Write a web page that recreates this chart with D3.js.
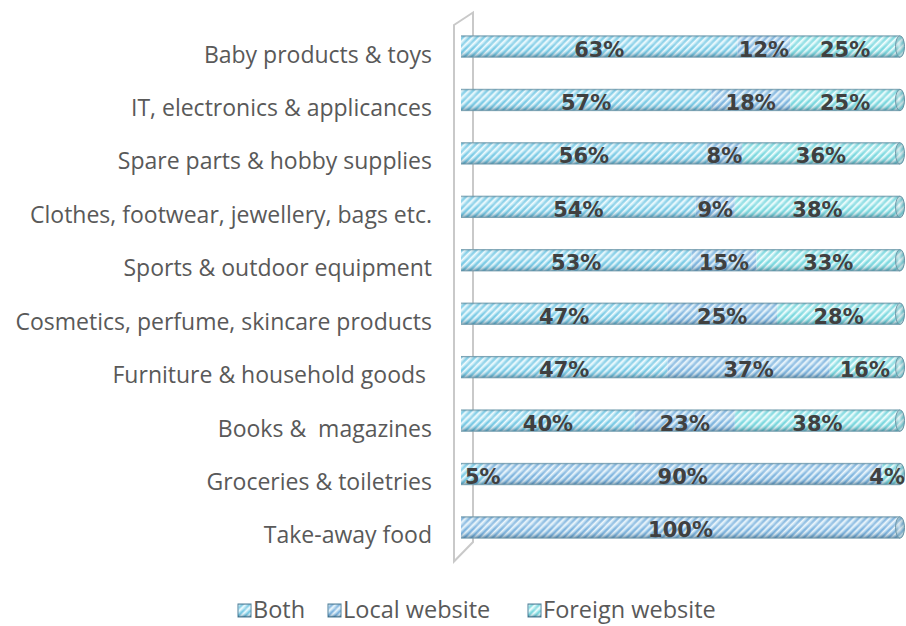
<!DOCTYPE html>
<html>
<head>
<meta charset="utf-8">
<script src="https://cdn.jsdelivr.net/npm/d3@7"></script>
<style>
  html, body { margin: 0; padding: 0; background: #ffffff; }
  svg { display: block; }
  text { white-space: pre; }
</style>
</head>
<body>
<svg id="chart" width="906" height="626"></svg>
<script>
// Where shoppers buy each product category: share by website origin
const categories = [
  "Baby products & toys",
  "IT, electronics & applicances",
  "Spare parts & hobby supplies",
  "Clothes, footwear, jewellery, bags etc.",
  "Sports & outdoor equipment",
  "Cosmetics, perfume, skincare products",
  "Furniture & household goods ",
  "Books &  magazines",
  "Groceries & toiletries",
  "Take-away food"
];
const seriesNames = ["Both", "Local website", "Foreign website"];
const both    = [63, 57, 56, 54, 53, 47, 47, 40, 5, 0];
const local   = [12, 18, 8, 9, 15, 25, 37, 23, 90, 100];
const foreign = [25, 25, 36, 38, 33, 28, 16, 38, 4, 0];

const W = 906, H = 626;
const svg = d3.select("#chart");
const defs = svg.append("defs");

// striped fills, one per series
const fills = [
  { base: "#9ad9ee", stripe: "#eefafe", line: "#68c2e0" },
  { base: "#9cc9e8", stripe: "#eaf4fb", line: "#6ea6d8" },
  { base: "#97e3e8", stripe: "#effdfd", line: "#6dd2da" }
];
fills.forEach((f, i) => {
  const p = defs.append("pattern")
    .attr("id", "stripe" + i)
    .attr("patternUnits", "userSpaceOnUse")
    .attr("width", 5).attr("height", 5)
    .attr("patternTransform", "rotate(45)");
  p.append("rect").attr("width", 5).attr("height", 5).attr("fill", f.base);
  p.append("rect").attr("x", 0).attr("width", 1.6).attr("height", 5).attr("fill", f.stripe);
  p.append("rect").attr("x", 3.2).attr("width", 0.9).attr("height", 5).attr("fill", f.line);
});

// cylinder shading across the bar height
const shade = defs.append("linearGradient")
  .attr("id", "cyl").attr("x1", 0).attr("y1", 0).attr("x2", 0).attr("y2", 1);
[
  [0, "#1d4a63", 0.35],
  [0.12, "#ffffff", 0.10],
  [0.35, "#ffffff", 0.25],
  [0.6, "#ffffff", 0.0],
  [0.85, "#16405a", 0.15],
  [1, "#16405a", 0.45]
].forEach(([o, c, a]) => shade.append("stop")
  .attr("offset", o).attr("stop-color", c).attr("stop-opacity", a));

const capShade = defs.append("radialGradient")
  .attr("id", "cap").attr("cx", 0.4).attr("cy", 0.45).attr("r", 0.7);
capShade.append("stop").attr("offset", 0).attr("stop-color", "#ffffff").attr("stop-opacity", 0.55);
capShade.append("stop").attr("offset", 1).attr("stop-color", "#1d5a6a").attr("stop-opacity", 0.25);

// scales
const x = d3.scaleLinear().domain([0, 1]).range([461, 900]);
const y = d3.scaleBand().domain(categories)
  .range([19.8, 554.2]).paddingInner(0.6).paddingOuter(0.3);
const bh = y.bandwidth();

// 100% stacked layout
const rows = categories.map((c, i) => ({ cat: c, Both: both[i], "Local website": local[i], "Foreign website": foreign[i] }));
rows.forEach(r => { r.total = r.Both + r["Local website"] + r["Foreign website"]; });
const stack = d3.stack().keys(seriesNames).value((d, k) => d[k] / d.total);
const layers = stack(rows);

// back wall
svg.append("path")
  .attr("d", "M454,25 L473,12.5 L473,542 L454,561.5 Z")
  .attr("fill", "none").attr("stroke", "#c9c9c9").attr("stroke-width", 2);

// category labels
svg.append("g").selectAll("text").data(categories).join("text")
  .attr("x", 432)
  .attr("y", d => y(d) + bh / 2 + 16)
  .attr("text-anchor", "end")
  .attr("font-family", "'Open Sans', 'Noto Sans', sans-serif")
  .attr("font-size", 23)
  .attr("fill", "#595959")
  .text(d => d);

// bars
const barG = svg.append("g");
layers.forEach((layer, si) => {
  barG.append("g").selectAll("rect").data(layer).join("rect")
    .attr("x", d => x(d[0]))
    .attr("y", d => y(d.data.cat))
    .attr("width", d => Math.max(0, x(d[1]) - x(d[0])))
    .attr("height", bh)
    .attr("fill", `url(#stripe${si})`);
});

// shading and outline over the full cylinder, with the rounded end cap
const rx = 4.5;
const cyl = svg.append("g").selectAll("g").data(rows).join("g");
cyl.append("rect")
  .attr("x", x(0)).attr("y", d => y(d.cat))
  .attr("width", x(1) - x(0)).attr("height", bh)
  .attr("fill", "url(#cyl)");
cyl.append("path")
  .attr("d", d => {
    const t = y(d.cat), b = t + bh;
    return `M${x(0)},${t} L${x(1)},${t} M${x(0)},${b} L${x(1)},${b}`;
  })
  .attr("fill", "none").attr("stroke", "#6f98aa").attr("stroke-width", 1).attr("stroke-opacity", 0.8);
cyl.append("ellipse")
  .attr("cx", x(1)).attr("cy", d => y(d.cat) + bh / 2)
  .attr("rx", rx).attr("ry", bh / 2)
  .attr("fill", d => d["Foreign website"] > 0 ? "url(#stripe2)" : "url(#stripe1)")
  .attr("stroke", "#6f98aa").attr("stroke-width", 1);
cyl.append("ellipse")
  .attr("cx", x(1)).attr("cy", d => y(d.cat) + bh / 2)
  .attr("rx", rx).attr("ry", bh / 2)
  .attr("fill", "url(#cap)");

// value labels centred on each segment, kept inside the plot
const lblG = svg.append("g")
  .attr("font-family", "'DejaVu Sans', sans-serif")
  .attr("font-weight", "bold")
  .attr("font-size", 21)
  .attr("fill", "#404040");
layers.forEach((layer, si) => {
  layer.forEach(d => {
    const v = d.data[seriesNames[si]];
    if (!v) return;
    const t = lblG.append("text")
      .attr("y", y(d.data.cat) + bh / 2 + 10)
      .attr("text-anchor", "middle")
      .text(v + "%");
    const w = t.node().getComputedTextLength();
    let cx = (x(d[0]) + x(d[1])) / 2;
    cx = Math.max(cx, x(0) + 4 + w / 2);
    cx = Math.min(cx, x(1) + 5 - w / 2);
    t.attr("x", cx);
  });
});

// legend
const legend = svg.append("g").attr("transform", "translate(0,618)");
const legX = [238, 328, 528];
seriesNames.forEach((n, i) => {
  const g = legend.append("g").attr("transform", `translate(${legX[i]},0)`);
  g.append("rect").attr("x", 0).attr("y", -14).attr("width", 13).attr("height", 13)
    .attr("fill", `url(#stripe${i})`).attr("stroke", "#4d7f99").attr("stroke-width", 1);
  g.append("rect").attr("x", 0).attr("y", -14).attr("width", 13).attr("height", 13)
    .attr("fill", "url(#cyl)");
  g.append("text").attr("x", 15).attr("y", 0)
    .attr("font-family", "'Open Sans', 'Noto Sans', sans-serif")
    .attr("font-size", 23.5).attr("fill", "#595959")
    .text(n);
});
</script>
</body>
</html>
